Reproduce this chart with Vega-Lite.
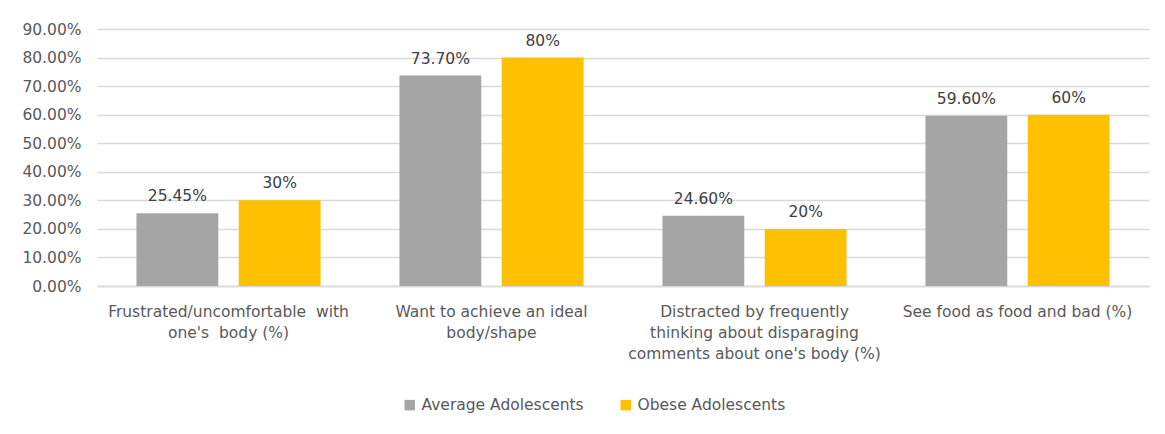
{
  "$schema": "https://vega.github.io/schema/vega-lite/v6.json",
  "width": 1052,
  "height": 257,
  "autosize": {"type": "none"},
  "padding": {"left": 97, "top": 29, "right": 16, "bottom": 148},
  "background": "white",
  "data": {
    "values": [
      {"category": "Frustrated/uncomfortable\u00a0 with\none's\u00a0 body (%)", "group": "Average Adolescents", "value": 0.2545, "label": "25.45%"},
      {"category": "Frustrated/uncomfortable\u00a0 with\none's\u00a0 body (%)", "group": "Obese Adolescents", "value": 0.30, "label": "30%"},
      {"category": "Want to achieve an ideal\nbody/shape", "group": "Average Adolescents", "value": 0.737, "label": "73.70%"},
      {"category": "Want to achieve an ideal\nbody/shape", "group": "Obese Adolescents", "value": 0.80, "label": "80%"},
      {"category": "Distracted by frequently\nthinking about disparaging\ncomments about one's body (%)", "group": "Average Adolescents", "value": 0.246, "label": "24.60%"},
      {"category": "Distracted by frequently\nthinking about disparaging\ncomments about one's body (%)", "group": "Obese Adolescents", "value": 0.20, "label": "20%"},
      {"category": "See food as food and bad (%)", "group": "Average Adolescents", "value": 0.596, "label": "59.60%"},
      {"category": "See food as food and bad (%)", "group": "Obese Adolescents", "value": 0.60, "label": "60%"}
    ]
  },
  "encoding": {
    "x": {
      "field": "category", "type": "nominal", "sort": null,
      "scale": {"paddingInner": 0.3, "paddingOuter": 0.15},
      "axis": {
        "title": null, "labelAngle": 0, "labelExpr": "split(datum.label, '\\n')",
        "labelFont": "DejaVu Sans", "labelFontSize": 15.5, "labelColor": "#595959",
        "labelLineHeight": 21, "labelPadding": 18, "ticks": false,
        "domainColor": "#d9d9d9", "domainWidth": 1.5, "labelLimit": 320
      }
    },
    "xOffset": {"field": "group", "type": "nominal", "scale": {"paddingInner": 0.2}},
    "y": {
      "field": "value", "type": "quantitative",
      "scale": {"domain": [0, 0.9], "nice": false},
      "axis": {
        "title": null, "format": ".2%", "values": [0, 0.1, 0.2, 0.3, 0.4, 0.5, 0.6, 0.7, 0.8, 0.9],
        "labelOverlap": false, "labelBound": false,
        "labelFont": "DejaVu Sans", "labelFontSize": 15.5, "labelColor": "#595959",
        "labelPadding": 16, "ticks": false, "domain": false,
        "gridColor": "#d9d9d9", "gridWidth": 1.5
      }
    }
  },
  "layer": [
    {
      "mark": {"type": "bar"},
      "encoding": {
        "color": {
          "field": "group", "type": "nominal",
          "scale": {"domain": ["Average Adolescents", "Obese Adolescents"], "range": ["#a5a5a5", "#ffc000"]},
          "legend": {
            "title": null, "orient": "none", "direction": "horizontal",
            "legendX": 305, "legendY": 368,
            "symbolType": "square", "symbolSize": 110, "symbolStrokeWidth": 0,
            "labelFont": "DejaVu Sans", "labelFontSize": 15.5, "labelColor": "#595959",
            "labelLimit": 400, "columnPadding": 34, "labelOffset": 4
          }
        }
      }
    },
    {
      "mark": {"type": "text", "baseline": "bottom", "dy": -9, "font": "DejaVu Sans", "fontSize": 15.5, "color": "#404040"},
      "encoding": {"text": {"field": "label"}}
    }
  ],
  "config": {"view": {"stroke": null}}
}
